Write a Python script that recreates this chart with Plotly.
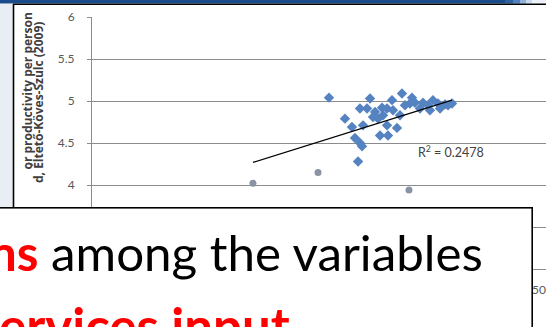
import plotly.graph_objects as go

# ---- data ----
x_main = [2610, 2930, 2786, 2863, 2896, 2951, 2974, 2951, 3029, 3062, 3117, 3095,
          3150, 3194, 3205, 3249, 2985, 3249, 3172, 3260, 3359, 3414, 3447, 3315,
          3502, 3557, 3612, 3645, 3700, 3722, 3755, 3810, 3833, 3888, 3921, 3965,
          3392, 3304, 3524]
y_main = [5.04, 4.28, 4.79, 4.69, 4.56, 4.50, 4.46, 4.91, 4.91, 5.03, 4.87, 4.81,
          4.79, 4.92, 4.83, 4.91, 4.71, 4.71, 4.59, 4.59, 4.68, 5.09, 4.95, 4.89,
          4.97, 4.98, 4.91, 4.98, 4.95, 4.89, 5.01, 4.97, 4.91, 4.96, 4.95, 4.97,
          4.83, 5.01, 5.04]
x_outl = [1773, 2489, 3491]
y_outl = [4.02, 4.15, 3.94]
trend_x = [1773, 3965]
trend_y = [4.27, 5.01]
r2_text = "R<sup>2</sup> = 0.2478"
y_ticks = [3, 3.5, 4, 4.5, 5, 5.5, 6]
y_ticklabels = ["3", "3.5", "4", "4.5", "5", "5.5", "6"]
x_ticks = [0, 1000, 2000, 3000, 4000, 5000]
x_ticklabels = ["0", "1000", "2000", "3000", "4000", "5000"]
title_line1 = "or productivity per person"
title_line2 = "d, Éltető-Köves-Szulc (2009)"
box_line1 = "<b><span style='color:#ff0000'>ns</span></b> among the variables"
box_line2 = "<b>ervices input.</b>"

W, H = 546, 327
L, R, T, B = 92, 0, 17, 58
PW, PH = W - L - R, H - T - B


def xp(px):
    return (px - L) / PW


def yp(py):
    return (H - B - py) / PH


fig = go.Figure()
fig.add_trace(go.Scatter(x=x_main, y=y_main, mode="markers",
                         marker=dict(symbol="diamond", size=8, color="#5583c2"),
                         showlegend=False, hoverinfo="skip"))
fig.add_trace(go.Scatter(x=x_outl, y=y_outl, mode="markers",
                         marker=dict(symbol="circle", size=7, color="#8a93a3"),
                         showlegend=False, hoverinfo="skip"))
fig.add_trace(go.Scatter(x=trend_x, y=trend_y, mode="lines",
                         line=dict(color="#000000", width=1.2),
                         showlegend=False, hoverinfo="skip"))

tickfont = dict(family="Lato", size=12, color="#595959")
fig.update_xaxes(range=[0, 5000], tickvals=x_ticks, ticktext=x_ticklabels,
                 showgrid=False, zeroline=False, showline=True, linecolor="#8c8c8c",
                 ticks="outside", ticklen=4, tickcolor="#8c8c8c", tickfont=tickfont,
                 ticklabelstandoff=6, ticklabeloverflow="allow", automargin=False)
fig.update_yaxes(range=[3, 6], tickvals=y_ticks, ticktext=y_ticklabels,
                 showgrid=True, gridcolor="#8c8c8c", gridwidth=1, zeroline=False,
                 showline=True, linecolor="#8c8c8c", ticks="outside", ticklen=4,
                 tickcolor="#8c8c8c", tickfont=tickfont, ticklabelstandoff=10,
                 automargin=False)

shapes = []
# left light strip
shapes.append(dict(type="rect", xref="paper", yref="paper", x0=xp(-2), x1=xp(13),
                   y0=yp(207), y1=yp(4), fillcolor="#e9eef5", line=dict(width=0),
                   layer="above"))
# top blue band with fading right end
band = [(-2, 505, "#1a4c8c"), (505, 513, "#2c61a2"), (513, 520, "#4f82bf"),
        (520, 526, "#8fb1da"), (526, 532, "#c9daee"), (532, 548, "#eef3f9")]
for a, b, c in band:
    shapes.append(dict(type="rect", xref="paper", yref="paper", x0=xp(a), x1=xp(b),
                       y0=yp(3.6), y1=yp(-2), fillcolor=c, line=dict(width=0),
                       layer="above"))
# black frame lines
shapes.append(dict(type="line", xref="paper", yref="paper", x0=xp(13), x1=xp(548),
                   y0=yp(4.3), y1=yp(4.3), line=dict(color="#000000", width=1.6),
                   layer="above"))
shapes.append(dict(type="line", xref="paper", yref="paper", x0=xp(13.5), x1=xp(13.5),
                   y0=yp(4), y1=yp(220), line=dict(color="#000000", width=1.6),
                   layer="above"))
fig.update_layout(shapes=shapes)

ann = []
titlefont = dict(family="Open Sans", size=12, color="#404040")
ann.append(dict(text="<b>" + title_line1 + "</b>", textangle=-90, xref="paper",
                yref="paper", x=xp(27), y=yp(12), xanchor="center", yanchor="top",
                showarrow=False, font=titlefont, borderpad=0))
ann.append(dict(text="<b>" + title_line2 + "</b>", textangle=-90, xref="paper",
                yref="paper", x=xp(38.5), y=yp(21), xanchor="center", yanchor="top",
                showarrow=False, font=titlefont, borderpad=0))
ann.append(dict(text=r2_text, xref="paper", yref="paper", x=xp(451), y=yp(151),
                xanchor="center", yanchor="middle", showarrow=False,
                font=dict(family="Lato", size=12.5, color="#404040")))
# text box covering the lower part
ann.append(dict(text=" ", xref="paper", yref="paper", x=xp(532.5), y=yp(206.5),
                xanchor="right", yanchor="top", showarrow=False, width=600, height=160,
                bgcolor="#ffffff", bordercolor="#000000", borderwidth=1.6, borderpad=0))
ann.append(dict(text=box_line1, xref="paper", yref="paper", x=xp(-13), y=yp(252),
                xanchor="left", yanchor="middle", showarrow=False,
                font=dict(family="Lato", size=49.3, color="#000000")))
ann.append(dict(text=box_line2, xref="paper", yref="paper", x=xp(-3), y=yp(325),
                xanchor="left", yanchor="middle", showarrow=False,
                font=dict(family="Lato", size=51, color="#ff0000")))
fig.update_layout(annotations=ann)

fig.update_layout(width=W, height=H, margin=dict(l=L, r=R, t=T, b=B, pad=0),
                  paper_bgcolor="#ffffff", plot_bgcolor="#ffffff")
fig.write_html("out.html", config={"displayModeBar": False},
               post_script="document.body.style.margin='0px';")
